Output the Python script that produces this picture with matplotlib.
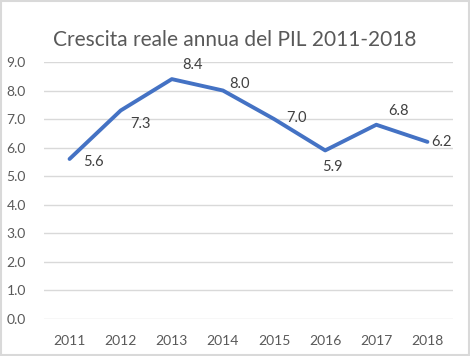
import matplotlib
matplotlib.use("Agg")
import matplotlib.pyplot as plt
from matplotlib.patches import Rectangle

plt.rcParams["font.family"] = ["Lato", "DejaVu Sans"]

anni = ["2011", "2012", "2013", "2014", "2015", "2016", "2017", "2018"]
crescita = [5.6, 7.3, 8.4, 8.0, 7.0, 5.9, 6.8, 6.2]
titolo = "Crescita reale annua del PIL 2011-2018"

# offset delle etichette (punti) come nel grafico di Excel
offsets = [(17, -2), (14, -10), (15, 10), (12, 5), (16, 1), (5, -12), (16, 10), (10, 0)]

fig = plt.figure(figsize=(4.70, 3.56), dpi=100)
ax = fig.add_axes([44 / 470, 1 - 318.7 / 356, 409 / 470, 256.7 / 356])

x = list(range(len(anni)))
ax.plot(x, crescita, color="#4472C4", linewidth=2.8, solid_joinstyle="round",
        solid_capstyle="round", zorder=3)

for xi, v, (dx, dy) in zip(x, crescita, offsets):
    ax.annotate(f"{v:.1f}", (xi, v), xytext=(dx, dy), textcoords="offset points",
                ha="center", va="center", fontsize=10.5, color="#404040")

ax.set_xlim(-0.5, len(anni) - 0.5)
ax.set_ylim(0, 9)
ax.set_yticks(range(0, 10))
ax.set_yticklabels([f"{v:.1f}" for v in range(0, 10)])
ax.set_xticks(x)
ax.set_xticklabels(anni)
ax.yaxis.grid(True, color="#d9d9d9", linewidth=1.0)
ax.set_axisbelow(True)
ax.tick_params(axis="both", length=0, labelsize=10, colors="#595959")
ax.tick_params(axis="y", pad=13)
ax.tick_params(axis="x", pad=12)
for s in ax.spines.values():
    s.set_visible(False)

fig.text(0.5, 1 - 40 / 356, titolo, ha="center", va="center",
         fontsize=15, color="#595959")

fig.patches.append(Rectangle((0.002, 0.003), 0.996, 0.994, transform=fig.transFigure,
                             fill=False, edgecolor="#d9d9d9", linewidth=1.5))

fig.savefig("out.png", dpi=100)
